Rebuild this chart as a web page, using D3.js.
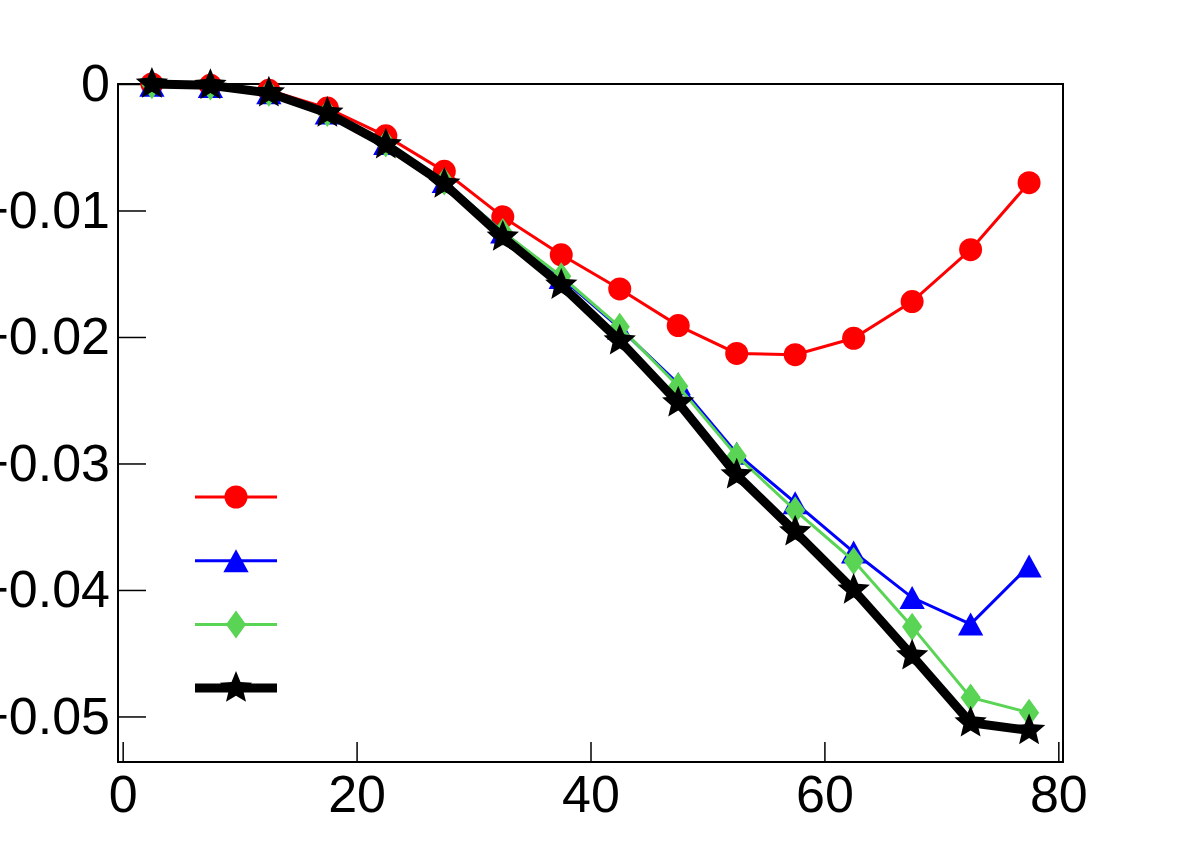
<!DOCTYPE html>
<html>
<head>
<meta charset="utf-8">
<script src="https://cdn.jsdelivr.net/npm/d3@7"></script>
<style>
  body { margin: 0; background: #fff; }
  svg { display: block; font-family: "Liberation Sans", Arial, sans-serif; }
</style>
</head>
<body>
<div class="chart"></div>
<script>
var xValues = [2.5, 7.5, 12.5, 17.5, 22.5, 27.5, 32.5, 37.5, 42.5, 47.5, 52.5, 57.5, 62.5, 67.5, 72.5, 77.5];
var redValues = [-0.0000, -0.0001, -0.0005, -0.0019, -0.0041, -0.0069, -0.0105, -0.0135, -0.0162, -0.0191, -0.0213, -0.0214, -0.0201, -0.0172, -0.0131, -0.0078];
var blueValues = [-0.0001, -0.0002, -0.0007, -0.0023, -0.0047, -0.0077, -0.0117, -0.0153, -0.0193, -0.0237, -0.0292, -0.0331, -0.0370, -0.0406, -0.0427, -0.0381];
var greenValues = [-0.0001, -0.0002, -0.0007, -0.0023, -0.0047, -0.0077, -0.0117, -0.0152, -0.0192, -0.0239, -0.0294, -0.0337, -0.0377, -0.0429, -0.0485, -0.0497];
var blackValues = [-0.0000, -0.0001, -0.0007, -0.0023, -0.0048, -0.0079, -0.0121, -0.0159, -0.0203, -0.0252, -0.0309, -0.0354, -0.0400, -0.0452, -0.0505, -0.0511];
var xTicks = [0, 20, 40, 60, 80];
var yTicks = [0, -0.01, -0.02, -0.03, -0.04, -0.05];

var width = 1182, height = 848;
var frame = {left: 118, right: 1063, top: 84, bottom: 762};

// ROOT-like marker shapes, "size" is the half height of the marker
var rootDiamond = {
  draw: function(ctx, r) {
    var w = r * 0.72;
    ctx.moveTo(0, -r); ctx.lineTo(w, 0); ctx.lineTo(0, r); ctx.lineTo(-w, 0); ctx.closePath();
  }
};
var rootTriangle = {
  draw: function(ctx, r) {
    var w = r * 1.1;
    ctx.moveTo(0, -r); ctx.lineTo(w, r); ctx.lineTo(-w, r); ctx.closePath();
  }
};
var rootStar = {
  draw: function(ctx, r) {
    var inner = r * 0.45;
    for (var i = 0; i < 10; i++) {
      var rad = i % 2 === 0 ? r : inner;
      var a = -Math.PI / 2 + i * Math.PI / 5;
      if (i === 0) ctx.moveTo(rad * Math.cos(a), rad * Math.sin(a));
      else ctx.lineTo(rad * Math.cos(a), rad * Math.sin(a));
    }
    ctx.closePath();
  }
};
var rootCircle = {
  draw: function(ctx, r) {
    ctx.moveTo(r, 0); ctx.arc(0, 0, r, 0, 2 * Math.PI);
  }
};

var series = [
  {values: redValues, color: "#ff0000", lineWidth: 3, symbol: rootCircle, size: 11.5},
  {values: blueValues, color: "#0000ff", lineWidth: 3, symbol: rootTriangle, size: 11.5},
  {values: greenValues, color: "#59d454", lineWidth: 3, symbol: rootDiamond, size: 14},
  {values: blackValues, color: "#000000", lineWidth: 9, symbol: rootStar, size: 17}
];

var x = d3.scaleLinear().domain([-0.4, 80.4]).range([frame.left, frame.right]);
var y = d3.scaleLinear().domain([-0.0536, 0]).range([frame.bottom, frame.top]);

var svg = d3.select(".chart").append("svg")
  .attr("width", width)
  .attr("height", height);

// axes (ROOT style: ticks pointing into the frame)
var xAxis = d3.axisBottom(x).tickValues(xTicks).tickSize(-20).tickSizeOuter(0).tickPadding(13)
  .tickFormat(d3.format("d"));
var yAxis = d3.axisLeft(y).tickValues(yTicks).tickSize(-28).tickSizeOuter(0).tickPadding(8)
  .tickFormat(function(d) { return d === 0 ? "0" : d3.format(".2f")(d); });

svg.append("g")
  .attr("transform", "translate(0," + frame.bottom + ")")
  .call(xAxis)
  .call(function(g) { g.select(".domain").remove(); });
svg.append("g")
  .attr("transform", "translate(" + frame.left + ",0)")
  .call(yAxis)
  .call(function(g) { g.select(".domain").remove(); });

svg.selectAll(".tick line").attr("stroke", "#000").attr("stroke-width", 1.5);
svg.selectAll(".tick text").attr("fill", "#000").attr("font-size", 52)
  .attr("font-family", "Liberation Sans, Arial, sans-serif");

svg.append("rect")
  .attr("x", frame.left)
  .attr("y", frame.top)
  .attr("width", frame.right - frame.left)
  .attr("height", frame.bottom - frame.top)
  .attr("fill", "none")
  .attr("stroke", "#000")
  .attr("stroke-width", 2);

var line = d3.line()
  .x(function(d) { return x(d[0]); })
  .y(function(d) { return y(d[1]); });

series.forEach(function(s) {
  var pts = xValues.map(function(v, i) { return [v, s.values[i]]; });
  var g = svg.append("g");
  g.append("path")
    .attr("d", line(pts))
    .attr("fill", "none")
    .attr("stroke", s.color)
    .attr("stroke-width", s.lineWidth)
    .attr("stroke-linejoin", "miter");
  g.selectAll("path.marker").data(pts).enter().append("path")
    .attr("class", "marker")
    .attr("d", d3.symbol().type(s.symbol).size(s.size))
    .attr("transform", function(d) { return "translate(" + x(d[0]) + "," + y(d[1]) + ")"; })
    .attr("fill", s.color);
});

// legend without labels
var legendX1 = 195, legendX2 = 277, legendY0 = 497, legendStep = 63.7;
var legend = svg.selectAll("g.legend").data(series).enter().append("g")
  .attr("class", "legend")
  .attr("transform", function(d, i) { return "translate(0," + (legendY0 + i * legendStep) + ")"; });
legend.append("line")
  .attr("x1", legendX1)
  .attr("x2", legendX2)
  .attr("stroke", function(d) { return d.color; })
  .attr("stroke-width", function(d) { return d.lineWidth; });
legend.append("path")
  .attr("d", function(d) { return d3.symbol().type(d.symbol).size(d.size)(); })
  .attr("transform", "translate(" + (legendX1 + legendX2) / 2 + ",0)")
  .attr("fill", function(d) { return d.color; });
</script>
</body>
</html>
